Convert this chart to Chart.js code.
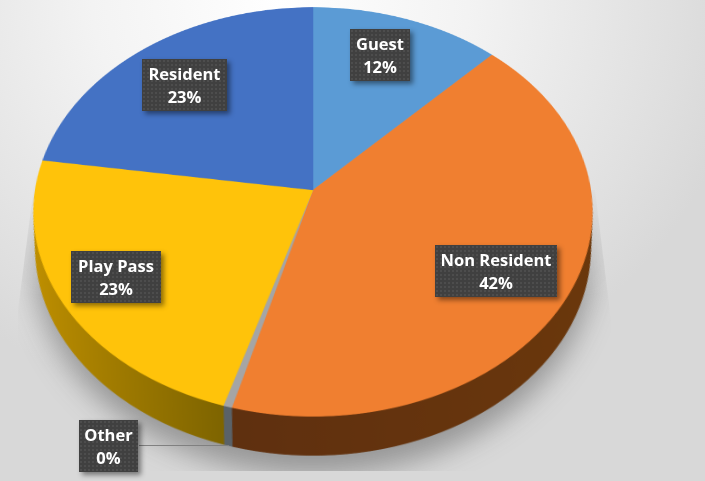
<!DOCTYPE html>
<html>
<head>
<meta charset="utf-8">
<script src="https://cdn.jsdelivr.net/npm/chart.js@4"></script>
<style>
  html, body { margin: 0; padding: 0; }
  body {
    width: 705px; height: 481px; overflow: hidden; position: relative;
    background: radial-gradient(ellipse 470px 420px at 280px 0, #ffffff 0%, #f3f3f3 40%, #dfdfdf 85%, #d8d8d8 100%);
    font-family: "Open Sans", sans-serif;
  }
  #shadowClip {
    position: absolute; left: 18px; top: 165px; width: 593px; height: 306px; overflow: hidden;
    clip-path: polygon(18px 5px, 577px 25px, 593px 155px, 593px 306px, 0 306px, 0 145px);
    -webkit-mask-image: linear-gradient(to bottom, transparent 0, #000 130px);
    mask-image: linear-gradient(to bottom, transparent 0, #000 130px);
  }
  #shadow {
    position: absolute; left: 14px; top: -130px; width: 562px; height: 440px; border-radius: 50%;
    background: rgba(60,60,60,0.42); filter: blur(14px);
  }
  #pie {
    position: absolute; left: -17px; top: -140px; width: 660px; height: 660px;
    transform-origin: 330px 330px;
    transform: perspective(1780px) rotateX(43.3deg);
  }
  .tag {
    position: absolute; box-sizing: border-box; text-align: center; color: #fff;
    font-weight: 700; font-size: 16.5px; line-height: 23px; padding-top: 3px;
    background-color: #404040;
    background-image: radial-gradient(#4d4d4d 0.8px, transparent 1px);
    background-size: 4px 4px;
    box-shadow: 3px 3px 5px rgba(0,0,0,0.45);
    white-space: nowrap;
  }
  #leader { position: absolute; left: 139px; top: 445px; width: 90px; height: 1px; background: #808080; }
</style>
</head>
<body>
<div id="shadowClip"><div id="shadow"></div></div>
<canvas id="pie" width="660" height="660"></canvas>
<div id="leader"></div>
<div class="tag" id="tag0" style="left:350px;top:29px;width:60px;height:52px"></div>
<div class="tag" id="tag1" style="left:435px;top:245px;width:122px;height:52px"></div>
<div class="tag" id="tag2" style="left:79px;top:420px;width:59px;height:52px"></div>
<div class="tag" id="tag3" style="left:71px;top:251px;width:90px;height:52px"></div>
<div class="tag" id="tag4" style="left:142px;top:59px;width:85px;height:52px"></div>
<script>
const categories = ['Guest', 'Non Resident', 'Other', 'Play Pass', 'Resident'];
const values = [12.2, 42, 0.45, 22.7, 22.6];
const topColors = ['#5b9bd5', '#f07f30', '#a5a5a5', '#ffc30a', '#4472c4'];
const frontSlices = [1, 2, 3]; // only these show their edge
const wallLeft = { 1: '#5e2f10', 2: '#5a6268', 3: '#c09000' };
const wallRight = { 1: '#6b380c', 2: '#5a6268', 3: '#7f6500' };

const WALL_DEPTH = 49;
const WALL_SHRINK = 0.025;

const total = values.reduce((a, b) => a + b, 0);
categories.forEach((name, i) => {
  document.getElementById('tag' + i).innerHTML = name + '<br>' + Math.round(values[i] / total * 100) + '%';
});

// draws the pie's edge by stamping the arcs downward before the real top face,
// each stamp a bit smaller because the lower rim is further from the viewer
const wallPlugin = {
  id: 'wall',
  beforeDatasetsDraw(chart) {
    const ctx = chart.ctx;
    const arcs = chart.getDatasetMeta(0).data;
    for (let step = WALL_DEPTH; step > 0; step--) {
      const s = 1 - WALL_SHRINK * step / WALL_DEPTH;
      ctx.save();
      ctx.translate(arcs[0].x, arcs[0].y + step);
      ctx.scale(s, s);
      ctx.translate(-arcs[0].x, -arcs[0].y);
      frontSlices.forEach((i) => {
        const arc = arcs[i];
        const g = ctx.createLinearGradient(arc.x - arc.outerRadius, 0, arc.x + arc.outerRadius, 0);
        if (i === 1) {
          g.addColorStop(0.3, wallLeft[i]);
          g.addColorStop(1, wallRight[i]);
        } else {
          g.addColorStop(0, wallLeft[i]);
          g.addColorStop(0.35, wallRight[i]);
        }
        const saved = arc.options;
        arc.options = Object.assign({}, saved, { backgroundColor: g, borderColor: g });
        arc.draw(ctx);
        arc.options = saved;
      });
      ctx.restore();
    }
  }
};

new Chart(document.getElementById('pie'), {
  type: 'pie',
  data: {
    labels: categories,
    datasets: [{
      data: values,
      backgroundColor: topColors,
      borderColor: topColors,
      borderWidth: 0.5
    }]
  },
  options: {
    responsive: false,
    animation: false,
    devicePixelRatio: 2,
    layout: { padding: 52 },
    plugins: {
      legend: { display: false },
      tooltip: { enabled: false }
    }
  },
  plugins: [wallPlugin]
});
</script>
</body>
</html>
